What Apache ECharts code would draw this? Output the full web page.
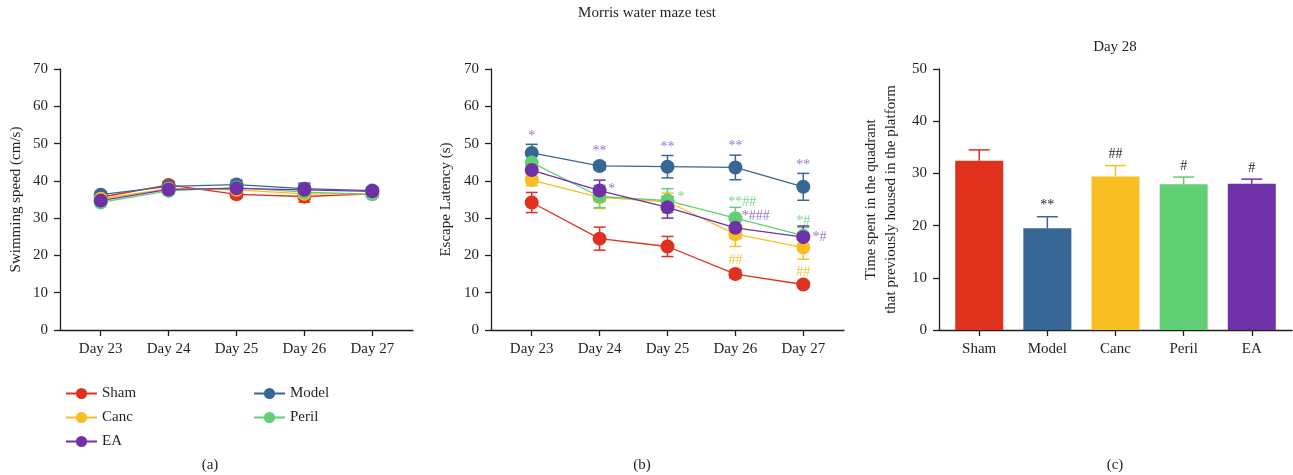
<!DOCTYPE html>
<html><head><meta charset="utf-8">
<script src="https://cdn.jsdelivr.net/npm/echarts@6/dist/echarts.min.js"></script>
<style>html,body{margin:0;padding:0;background:#fff}#c{width:1293px;height:475px}</style>
</head><body><div id="c"></div>
<script>
// ---------- data ----------
const groups = ['Sham', 'Model', 'Canc', 'Peril', 'EA'];
const colors = ['#E0301E', '#376795', '#F9BF22', '#63CF75', '#7031A8'];
const noteColors = ['#E0301E', '#376795', '#F8C440', '#7AD88A', '#9C74D4'];
const days = [23, 24, 25, 26, 27];
const dayLabels = ['Day 23', 'Day 24', 'Day 25', 'Day 26', 'Day 27'];

// (a) swimming speed (cm/s), mean and SEM
const speedSham  = [35.6, 38.9, 36.4, 35.8, 36.5];
const speedModel = [36.3, 38.5, 39.0, 37.9, 37.4];
const speedCanc  = [35.2, 37.9, 37.6, 36.5, 36.6];
const speedPeril = [34.2, 37.3, 38.2, 37.0, 36.4];
const speedEA    = [34.7, 37.7, 38.0, 37.6, 37.2];
const speedSemSham  = [0.8, 0.9, 1.0, 1.5, 0.6];
const speedSemModel = [0.8, 0.8, 1.2, 1.5, 0.8];
const speedSemCanc  = [0.8, 0.8, 1.0, 1.0, 0.8];
const speedSemPeril = [0.8, 0.8, 1.3, 1.0, 0.8];
const speedSemEA    = [0.8, 0.8, 1.3, 1.5, 0.8];

// (b) escape latency (s), mean and SEM
const latSham  = [34.2, 24.5, 22.4, 15.0, 12.2];
const latModel = [47.5, 44.0, 43.8, 43.6, 38.4];
const latCanc  = [40.2, 35.6, 34.4, 25.7, 22.1];
const latPeril = [44.9, 35.8, 34.7, 30.0, 25.3];
const latEA    = [42.9, 37.4, 32.9, 27.4, 24.9];
const latSemSham  = [2.7, 3.1, 2.7, 1.1, 0.8];
const latSemModel = [2.3, 1.0, 3.0, 3.3, 3.6];
const latSemCanc  = [1.5, 3.0, 2.3, 3.3, 3.1];
const latSemPeril = [2.5, 3.0, 3.2, 2.9, 2.2];
const latSemEA    = [1.8, 2.8, 2.9, 2.7, 3.0];

// (b) significance marks
const latNoteX     = [23, 24, 25, 26, 27, 24.18, 25.2, 26.1, 26.3, 26.0, 27.0, 27.24, 27.0];
const latNoteY     = [52.8, 48.7, 49.8, 50.0, 44.9, 38.6, 36.5, 35.1, 31.4, 19.6, 30.0, 25.7, 16.4];
const latNoteText  = ['*', '**', '**', '**', '**', '*', '*', '**##', '*###', '##', '*#', '*#', '##'];
const latNoteGroup = ['EA', 'EA', 'EA', 'EA', 'EA', 'EA', 'Peril', 'Peril', 'EA', 'Canc', 'Peril', 'EA', 'Canc'];

// (c) time in target quadrant, Day 28
const timeVals = [32.4, 19.5, 29.4, 27.9, 28.0];
const timeSem  = [2.1, 2.2, 2.1, 1.4, 0.9];
const timeNotes = ['', '**', '##', '#', '#'];

// ---------- build ----------
const FONT = 'Liberation Serif';
const INK = '#231f20';
const speedMeans = [speedSham, speedModel, speedCanc, speedPeril, speedEA];
const speedSems = [speedSemSham, speedSemModel, speedSemCanc, speedSemPeril, speedSemEA];
const latMeans = [latSham, latModel, latCanc, latPeril, latEA];
const latSems = [latSemSham, latSemModel, latSemCanc, latSemPeril, latSemEA];

function errRender(color, capHalf, upOnly) {
  return function (params, api) {
    const x = api.value(0), lo = api.value(1), hi = api.value(2);
    const a = api.coord([x, hi]), b = api.coord([x, lo]);
    const st = { stroke: color, lineWidth: 1.5 };
    const ch = [
      { type: 'line', shape: { x1: a[0], y1: a[1], x2: b[0], y2: b[1] }, style: st },
      { type: 'line', shape: { x1: a[0] - capHalf, y1: a[1], x2: a[0] + capHalf, y2: a[1] }, style: st }
    ];
    if (!upOnly) ch.push({ type: 'line', shape: { x1: b[0] - capHalf, y1: b[1], x2: b[0] + capHalf, y2: b[1] }, style: st });
    return { type: 'group', children: ch };
  };
}

const series = [];
[[speedMeans, speedSems, 0], [latMeans, latSems, 1]].forEach(([means, sems, idx]) => {
  groups.forEach((g, gi) => {
    series.push({
      type: 'line', name: g, xAxisIndex: idx, yAxisIndex: idx,
      data: days.map((d, i) => [d, means[gi][i]]),
      symbol: 'circle', symbolSize: 14,
      itemStyle: { color: colors[gi] },
      lineStyle: { color: colors[gi], width: 1.3 },
      z: 2, silent: true
    });
    series.push({
      type: 'custom', name: g + ' err ' + idx, xAxisIndex: idx, yAxisIndex: idx,
      data: days.map((d, i) => [d, means[gi][i] - sems[gi][i], means[gi][i] + sems[gi][i]]),
      renderItem: errRender(colors[gi], 6, false), z: 2, silent: true
    });
  });
});

series.push({
  type: 'custom', name: 'lat notes', xAxisIndex: 1, yAxisIndex: 1, z: 5, silent: true,
  data: latNoteX.map((x, i) => [x, latNoteY[i]]),
  renderItem: function (params, api) {
    const p = api.coord([api.value(0), api.value(1)]);
    const i = params.dataIndex;
    return { type: 'text', x: p[0], y: p[1] + 3, style: {
      text: latNoteText[i], fill: noteColors[groups.indexOf(latNoteGroup[i])],
      fontSize: 14, fontFamily: FONT, align: 'center', verticalAlign: 'middle' } };
  }
});

// (c) bars
series.push({
  type: 'bar', name: 'Day 28', xAxisIndex: 2, yAxisIndex: 2, barWidth: 48, silent: true,
  data: groups.map((g, i) => ({ value: [i, timeVals[i]], itemStyle: { color: colors[i] } })),
  z: 2
});
groups.forEach((g, i) => {
  series.push({
    type: 'custom', name: g + ' bar err', xAxisIndex: 2, yAxisIndex: 2, z: 1, silent: true,
    data: [[i, timeVals[i], timeVals[i] + timeSem[i]]],
    renderItem: errRender(colors[i], 10.5, true)
  });
});
series.push({
  type: 'custom', name: 'time notes', xAxisIndex: 2, yAxisIndex: 2, z: 5, silent: true,
  data: groups.map((g, i) => [i, timeVals[i] + timeSem[i]]),
  renderItem: function (params, api) {
    const p = api.coord([api.value(0), api.value(1)]);
    return { type: 'text', x: p[0], y: p[1] - 4, style: {
      text: timeNotes[params.dataIndex], fill: INK, fontSize: 14, fontFamily: FONT,
      align: 'center', verticalAlign: 'bottom' } };
  }
});

const axisLineStyle = { color: INK, width: 1.3 };
const labelStyle = { fontSize: 15, color: INK, fontFamily: FONT };
function dayAxis(gi) {
  return {
    type: 'value', gridIndex: gi, min: 22.4, max: 27.6,
    axisLine: { show: true, onZero: false, lineStyle: axisLineStyle },
    axisTick: { show: true, customValues: days, length: 6, lineStyle: axisLineStyle },
    axisLabel: Object.assign({ customValues: days, margin: 12,
      formatter: v => dayLabels[days.indexOf(v)] }, labelStyle),
    splitLine: { show: false }
  };
}
function valAxis(gi, max, name, gap, lh) {
  return {
    type: 'value', gridIndex: gi, min: 0, max: max, interval: 10,
    axisLine: { show: true, onZero: false, lineStyle: axisLineStyle },
    axisTick: { show: true, length: 6, lineStyle: axisLineStyle },
    axisLabel: Object.assign({ margin: 12 }, labelStyle),
    splitLine: { show: false },
    name: name, nameLocation: 'middle', nameGap: gap,
    nameTextStyle: { fontSize: 15, color: INK, fontFamily: FONT, lineHeight: lh }
  };
}
const legendText = { fontSize: 15, color: INK, fontFamily: FONT, lineHeight: 14 };

const option = {
  animation: false,
  textStyle: { fontFamily: FONT },
  grid: [
    { left: 60, top: 69, width: 353, height: 261, containLabel: false },
    { left: 491, top: 69, width: 353, height: 261, containLabel: false },
    { left: 939, top: 69, width: 353, height: 261, containLabel: false }
  ],
  xAxis: [
    dayAxis(0), dayAxis(1),
    {
      type: 'value', gridIndex: 2, min: -0.59, max: 4.59,
      axisLine: { show: true, onZero: false, lineStyle: axisLineStyle },
      axisTick: { show: true, customValues: [0, 1, 2, 3, 4], length: 6, lineStyle: axisLineStyle },
      axisLabel: Object.assign({ customValues: [0, 1, 2, 3, 4], margin: 12,
        formatter: v => groups[v] }, labelStyle),
      splitLine: { show: false }
    }
  ],
  yAxis: [
    valAxis(0, 70, 'Swimming speed (cm/s)', 35, 18),
    valAxis(1, 70, 'Escape Latency (s)', 36, 18),
    valAxis(2, 50, 'Time spent in the quadrant\nthat previously housed in the platform', 38, 20)
  ],
  legend: [
    { orient: 'vertical', left: 60, top: 381, data: ['Sham', 'Canc', 'EA'],
      itemWidth: 31, itemHeight: 14, itemGap: 9, selectedMode: false, textStyle: legendText },
    { orient: 'vertical', left: 248, top: 381, data: ['Model', 'Peril'],
      itemWidth: 31, itemHeight: 14, itemGap: 9, selectedMode: false, textStyle: legendText }
  ],
  graphic: [
    { type: 'text', x: 647, y: 13, style: { text: 'Morris water maze test', fontSize: 15, fontFamily: FONT, fill: INK, align: 'center', verticalAlign: 'middle' } },
    { type: 'text', x: 1115, y: 47, style: { text: 'Day 28', fontSize: 15, fontFamily: FONT, fill: INK, align: 'center', verticalAlign: 'middle' } },
    { type: 'text', x: 210, y: 465, style: { text: '(a)', fontSize: 15, fontFamily: FONT, fill: INK, align: 'center', verticalAlign: 'middle' } },
    { type: 'text', x: 642, y: 465, style: { text: '(b)', fontSize: 15, fontFamily: FONT, fill: INK, align: 'center', verticalAlign: 'middle' } },
    { type: 'text', x: 1115, y: 465, style: { text: '(c)', fontSize: 15, fontFamily: FONT, fill: INK, align: 'center', verticalAlign: 'middle' } }
  ],
  series: series
};
const chart = echarts.init(document.getElementById('c'), null, { renderer: 'canvas' });
chart.setOption(option);
</script></body></html>
